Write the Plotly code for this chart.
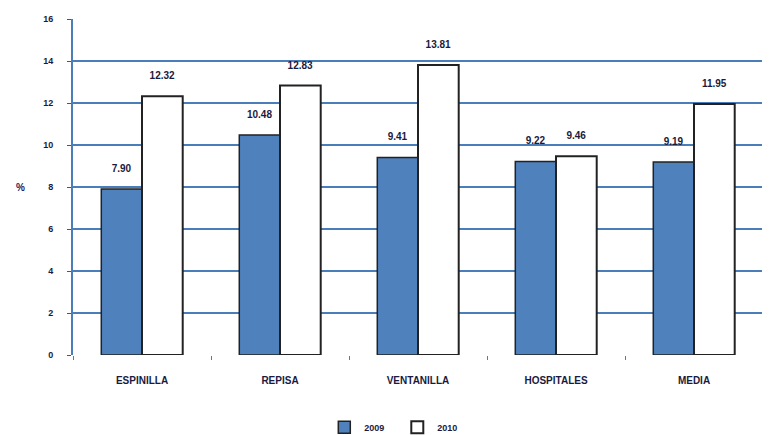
import plotly.graph_objects as go

categories = ["ESPINILLA", "REPISA", "VENTANILLA", "HOSPITALES", "MEDIA"]
series_names = ["2009", "2010"]
values_2009 = [7.90, 10.48, 9.41, 9.22, 9.19]
values_2010 = [12.32, 12.83, 13.81, 9.46, 11.95]
y_ticks = [0, 2, 4, 6, 8, 10, 12, 14, 16]

font_fam = "Liberation Sans, Arial, sans-serif"
txt_color = "#1a1a40"
pad = "<br><span style='font-size:5px'> </span>"

fig = go.Figure()
fig.add_trace(go.Bar(
    x=categories, y=values_2009, name=series_names[0],
    marker=dict(color="#4f81bd", line=dict(color="#222222", width=1.5)),
    text=[f"{v:.2f}{pad}" for v in values_2009], textposition="outside",
    textfont=dict(size=10, color=txt_color, family=font_fam, weight="bold"),
    cliponaxis=False,
))
fig.add_trace(go.Bar(
    x=categories, y=values_2010, name=series_names[1],
    marker=dict(color="#ffffff", line=dict(color="#222222", width=2)),
    text=[f"{v:.2f}{pad}" for v in values_2010], textposition="outside",
    textfont=dict(size=10, color=txt_color, family=font_fam, weight="bold"),
    cliponaxis=False,
))

fig.update_layout(
    width=762, height=427,
    margin=dict(l=65, r=7, t=11, b=80, autoexpand=False),
    paper_bgcolor="white", plot_bgcolor="white",
    barmode="group", bargap=0.41, bargroupgap=0,
    font=dict(family=font_fam, size=9, color=txt_color),
    showlegend=True,
    legend=dict(orientation="h", x=0.47, xanchor="center", y=-0.215, yanchor="middle",
                font=dict(size=9, family=font_fam, weight="bold", color=txt_color),
                itemwidth=30, tracegroupgap=0, entrywidth=28, entrywidthmode="pixels"),
    annotations=[dict(text="%", x=-0.085, y=0.5, xref="paper", yref="paper",
                      showarrow=False, font=dict(size=10, family=font_fam, weight="bold", color="#1a1a60"))],
)
fig.update_yaxes(
    range=[0, 16], tickvals=y_ticks, ticktext=[str(t) for t in y_ticks],
    showgrid=True, gridcolor="#4a7ebb", gridwidth=2,
    showline=True, linecolor="#4a7ebb", linewidth=2,
    ticks="outside", ticklen=4, tickcolor="#555555",
    tickfont=dict(size=9, family=font_fam, weight="bold", color=txt_color),
    ticklabelstandoff=12,
    zeroline=False,
)
fig.update_xaxes(
    showline=False, ticks="outside", tickson="boundaries", ticklen=4, tickcolor="#4a7ebb",
    tickfont=dict(size=10, family=font_fam, weight="bold", color=txt_color),
    ticklabelstandoff=18,
)
fig.write_html("out.html")
